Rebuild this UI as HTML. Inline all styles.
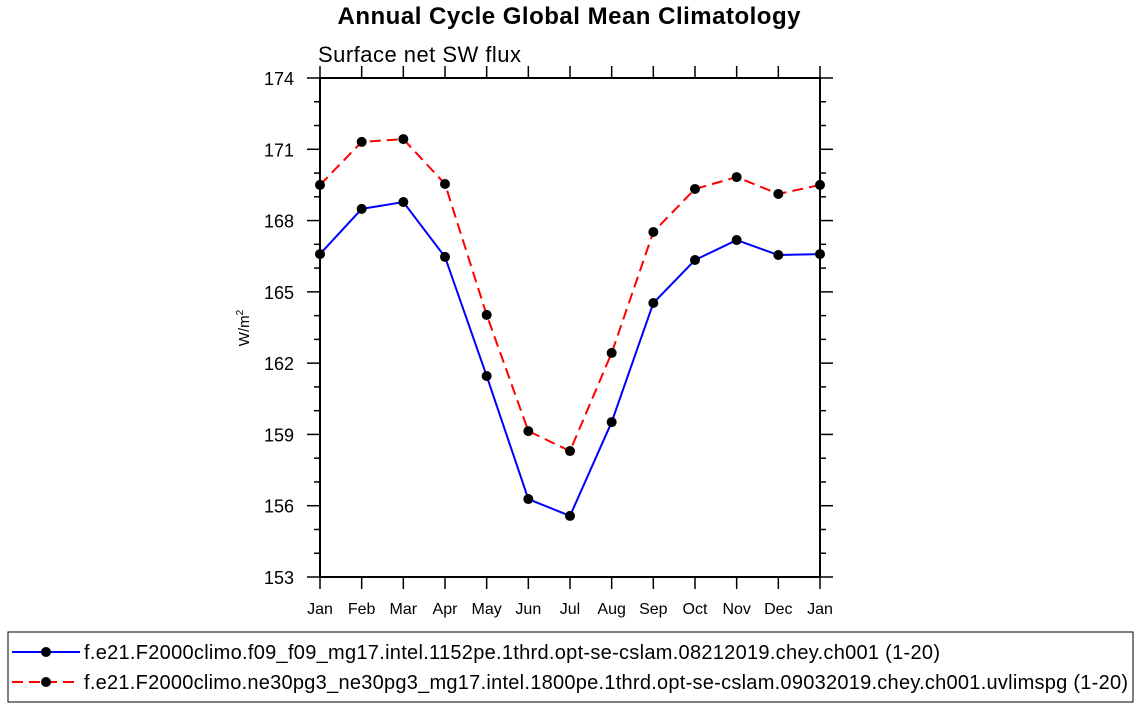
<!DOCTYPE html>
<html><head><meta charset="utf-8"><style>
html,body{margin:0;padding:0;background:#fff;}
svg{display:block;font-family:"Liberation Sans",Arial,sans-serif;}
</style></head><body>
<svg id="chart" width="1138" height="708" viewBox="0 0 1138 708">
<text x="569" y="24" text-anchor="middle" font-size="24" font-weight="bold" textLength="463">Annual Cycle Global Mean Climatology</text>
<text x="318" y="62" font-size="22" textLength="203">Surface net SW flux</text>
<text transform="translate(249,328) rotate(-90)" text-anchor="middle" font-size="15">W/m<tspan dy="-6" font-size="10">2</tspan></text>
<g id="axes"></g>
<g id="series"></g>
<rect x="8" y="632" width="1125" height="70" fill="none" stroke="#000" stroke-width="1"/>
<g>
<line x1="12" y1="652" x2="80" y2="652" stroke="#0000ff" stroke-width="2"/>
<circle cx="46" cy="652" r="5" fill="#000"/>
<text x="84" y="659" font-size="20" textLength="856">f.e21.F2000climo.f09_f09_mg17.intel.1152pe.1thrd.opt-se-cslam.08212019.chey.ch001 (1-20)</text>
</g>
<g>
<line x1="12" y1="682" x2="80" y2="682" stroke="#ff0000" stroke-width="2" stroke-dasharray="11,6"/>
<circle cx="46" cy="682" r="5" fill="#000"/>
<text x="84" y="689" font-size="20" textLength="1044">f.e21.F2000climo.ne30pg3_ne30pg3_mg17.intel.1800pe.1thrd.opt-se-cslam.09032019.chey.ch001.uvlimspg (1-20)</text>
</g>
</svg>
<script>
const months = ["Jan","Feb","Mar","Apr","May","Jun","Jul","Aug","Sep","Oct","Nov","Dec","Jan"];
const blueValues = [166.59,168.49,168.78,166.47,161.46,156.28,155.57,159.52,164.53,166.34,167.18,166.55,166.59];
const redValues = [169.50,171.31,171.43,169.54,164.03,159.14,158.30,162.43,167.52,169.33,169.83,169.12,169.50];
const yTicks = [153,156,159,162,165,168,171,174];
const NS="http://www.w3.org/2000/svg";
const L=320,R=820,T=78,B=577,ymin=153,ymax=174;
const xs=i=>L+(R-L)*i/(months.length-1);
const ys=v=>B-(v-ymin)/(ymax-ymin)*(B-T);
function mk(tag,attrs,parent){const e=document.createElementNS(NS,tag);for(const k in attrs)e.setAttribute(k,attrs[k]);parent.appendChild(e);return e;}
const ax=document.getElementById('axes');
const frame=mk('rect',{x:L,y:T,width:R-L,height:B-T,fill:'none',stroke:'#000','stroke-width':2},ax);


for(let v=ymin;v<=ymax;v++){
  const major=yTicks.includes(v);const len=major?13:6;const y=ys(v);
  mk('line',{x1:L,y1:y,x2:L-len,y2:y,stroke:'#000','stroke-width':1.5},ax);
  mk('line',{x1:R,y1:y,x2:R+len,y2:y,stroke:'#000','stroke-width':1.5},ax);
}
yTicks.forEach(v=>{
  const t=mk('text',{x:L-26,y:ys(v)+7,'text-anchor':'end','font-size':18},ax);t.textContent=v;
  
  
});
months.forEach((m,i)=>{
  const x=xs(i);
  mk('line',{x1:x,y1:B,x2:x,y2:B+12,stroke:'#000','stroke-width':1.5},ax);
  mk('line',{x1:x,y1:T,x2:x,y2:T-12,stroke:'#000','stroke-width':1.5},ax);
  const t=mk('text',{x:x,y:614,'text-anchor':'middle','font-size':16},ax);t.textContent=m;
  
  
});
const sg=document.getElementById('series');
function draw(vals,color,dash,name){
  const g=mk('g',{},sg);
  
  
  const pts=vals.map((v,i)=>xs(i)+','+ys(v)).join(' ');
  const a={points:pts,fill:'none',stroke:color,'stroke-width':2};
  if(dash)a['stroke-dasharray']=dash;
  mk('polyline',a,g);
  vals.forEach((v,i)=>{
    const c=mk('circle',{cx:xs(i),cy:ys(v),r:5,fill:'#000'},g);
    
    
  });
}
draw(blueValues,'#0000ff',null,'series-f09');
draw(redValues,'#ff0000','11,6','series-ne30pg3');
</script>
</body></html>
